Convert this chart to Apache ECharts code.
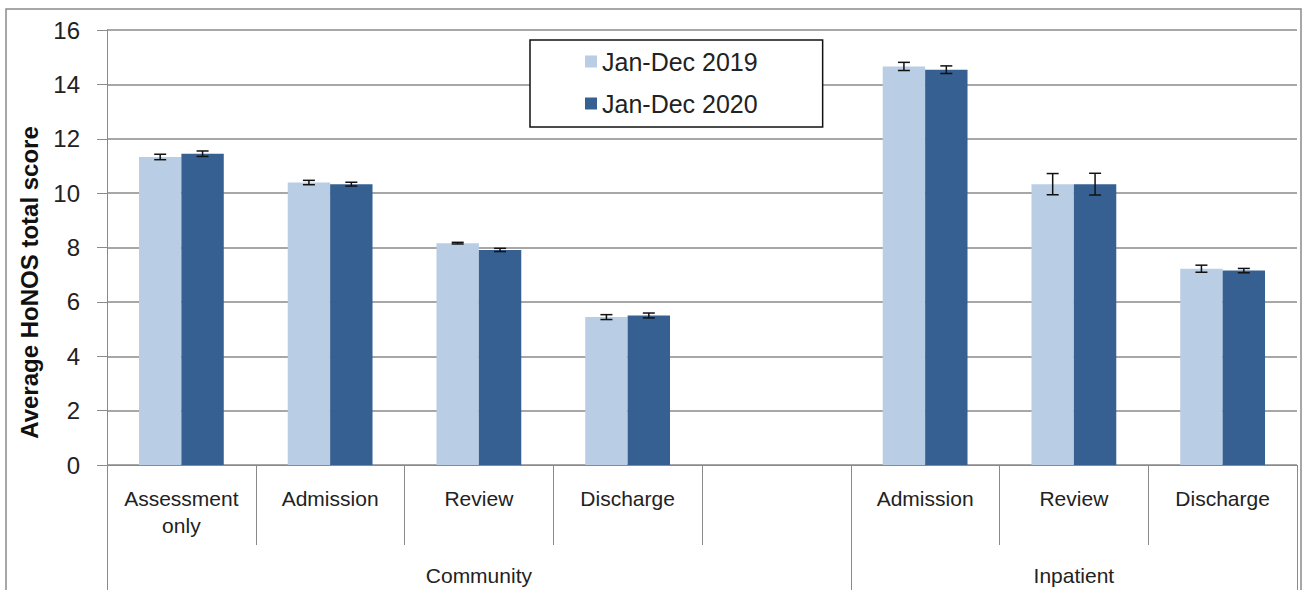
<!DOCTYPE html>
<html>
<head>
<meta charset="utf-8">
<script src="https://cdn.jsdelivr.net/npm/echarts@6/dist/echarts.min.js"></script>
<style>
  html, body { margin: 0; padding: 0; background: #fff; }
  #chart { width: 1302px; height: 590px; }
</style>
</head>
<body>
<div id="chart"></div>
<script>
// categories (bottom level) and groups (second level)
var categories = ["Assessment\nonly", "Admission", "Review", "Discharge", "", "Admission", "Review", "Discharge"];
var groupLabels = ["", "", "Community", "", "", "", "Inpatient", ""];
var groupStarts = [0, 5];
var seriesNames = ["Jan-Dec 2019", "Jan-Dec 2020"];

// average HoNOS total score
var values2019 = [11.33, 10.39, 8.16, 5.44, null, 14.66, 10.33, 7.22];
var values2020 = [11.45, 10.33, 7.91, 5.50, null, 14.54, 10.33, 7.15];
// error bar half widths
var errors2019 = [0.10, 0.08, 0.03, 0.09, null, 0.15, 0.39, 0.13];
var errors2020 = [0.10, 0.07, 0.06, 0.09, null, 0.14, 0.40, 0.08];

var yTicks = { min: 0, max: 16, interval: 2 };

var lightBlue = "#B9CDE5";
var darkBlue = "#366092";
var catGap = 0.43;

var chart = echarts.init(document.getElementById("chart"), null, { renderer: "svg" });

function errorData(vals, errs) {
  var out = [];
  for (var i = 0; i < vals.length; i++) {
    if (vals[i] == null) continue;
    out.push([i, vals[i] - errs[i], vals[i] + errs[i]]);
  }
  return out;
}

function errorSeries(vals, errs, side) {
  return {
    type: "custom",
    name: "err" + side,
    xAxisIndex: 0,
    silent: true,
    z: 5,
    data: errorData(vals, errs),
    renderItem: function (params, api) {
      var bw = api.size([1, 0])[0];
      var off = side * bw * (1 - catGap) / 4;
      var lo = api.coord([api.value(0), api.value(1)]);
      var hi = api.coord([api.value(0), api.value(2)]);
      var x = lo[0] + off;
      var cap = 6;
      var st = { stroke: "#111", lineWidth: 1.5 };
      return {
        type: "group",
        children: [
          { type: "line", shape: { x1: x, y1: lo[1], x2: x, y2: hi[1] }, style: st },
          { type: "line", shape: { x1: x - cap, y1: lo[1], x2: x + cap, y2: lo[1] }, style: st },
          { type: "line", shape: { x1: x - cap, y1: hi[1], x2: x + cap, y2: hi[1] }, style: st }
        ]
      };
    }
  };
}

var option = {
  backgroundColor: "#fff",
  animation: false,
  textStyle: { fontFamily: "Liberation Sans, Arial, sans-serif" },
  graphic: [{
    type: "rect",
    silent: true,
    shape: { x: 6, y: 9, width: 1295, height: 600 },
    style: { fill: "none", stroke: "#8a8a8a", lineWidth: 1.5 },
    z: -1
  }],
  grid: { left: 107, right: 5, top: 30, bottom: 125 },
  legend: {
    data: seriesNames,
    orient: "vertical",
    left: 530,
    top: 40,
    padding: [9, 65, 11, 55],
    itemGap: 17,
    itemWidth: 12,
    itemHeight: 12,
    icon: "rect",
    backgroundColor: "#fff",
    borderColor: "#111",
    borderWidth: 1.5,
    textStyle: { fontSize: 25, color: "#222" }
  },
  xAxis: [
    {
      type: "category",
      data: categories,
      axisLine: { show: true, lineStyle: { color: "#8a8a8a", width: 1 } },
      axisTick: { show: true, interval: 0, length: 80, lineStyle: { color: "#8a8a8a" } },
      axisLabel: { interval: 0, fontSize: 21, color: "#222", margin: 20, lineHeight: 27 }
    },
    {
      type: "category",
      position: "bottom",
      data: groupLabels,
      axisLine: { show: false },
      axisTick: {
        show: true,
        length: 125,
        interval: function (index) { return groupStarts.indexOf(index) >= 0; },
        lineStyle: { color: "#8a8a8a" }
      },
      axisLabel: { interval: 0, fontSize: 21, color: "#222", margin: 100 }
    }
  ],
  yAxis: {
    type: "value",
    min: yTicks.min,
    max: yTicks.max,
    interval: yTicks.interval,
    name: "Average HoNOS total score",
    nameLocation: "middle",
    nameGap: 66,
    nameTextStyle: { fontSize: 24, fontWeight: "bold", color: "#111", padding: [0, 70, 0, 0] },
    axisLine: { show: true, lineStyle: { color: "#8a8a8a", width: 1 } },
    axisTick: { show: true, length: 10, lineStyle: { color: "#8a8a8a" } },
    axisLabel: { fontSize: 24, color: "#222", margin: 27 },
    splitLine: { show: true, lineStyle: { color: "#8a8a8a", width: 1.5 } }
  },
  series: [
    {
      name: seriesNames[0],
      type: "bar",
      data: values2019,
      itemStyle: { color: lightBlue },
      barGap: "0%",
      barCategoryGap: (catGap * 100) + "%"
    },
    {
      name: seriesNames[1],
      type: "bar",
      data: values2020,
      itemStyle: { color: darkBlue },
      barGap: "0%",
      barCategoryGap: (catGap * 100) + "%"
    },
    errorSeries(values2019, errors2019, -1),
    errorSeries(values2020, errors2020, 1)
  ]
};

chart.setOption(option);
</script>
</body>
</html>
